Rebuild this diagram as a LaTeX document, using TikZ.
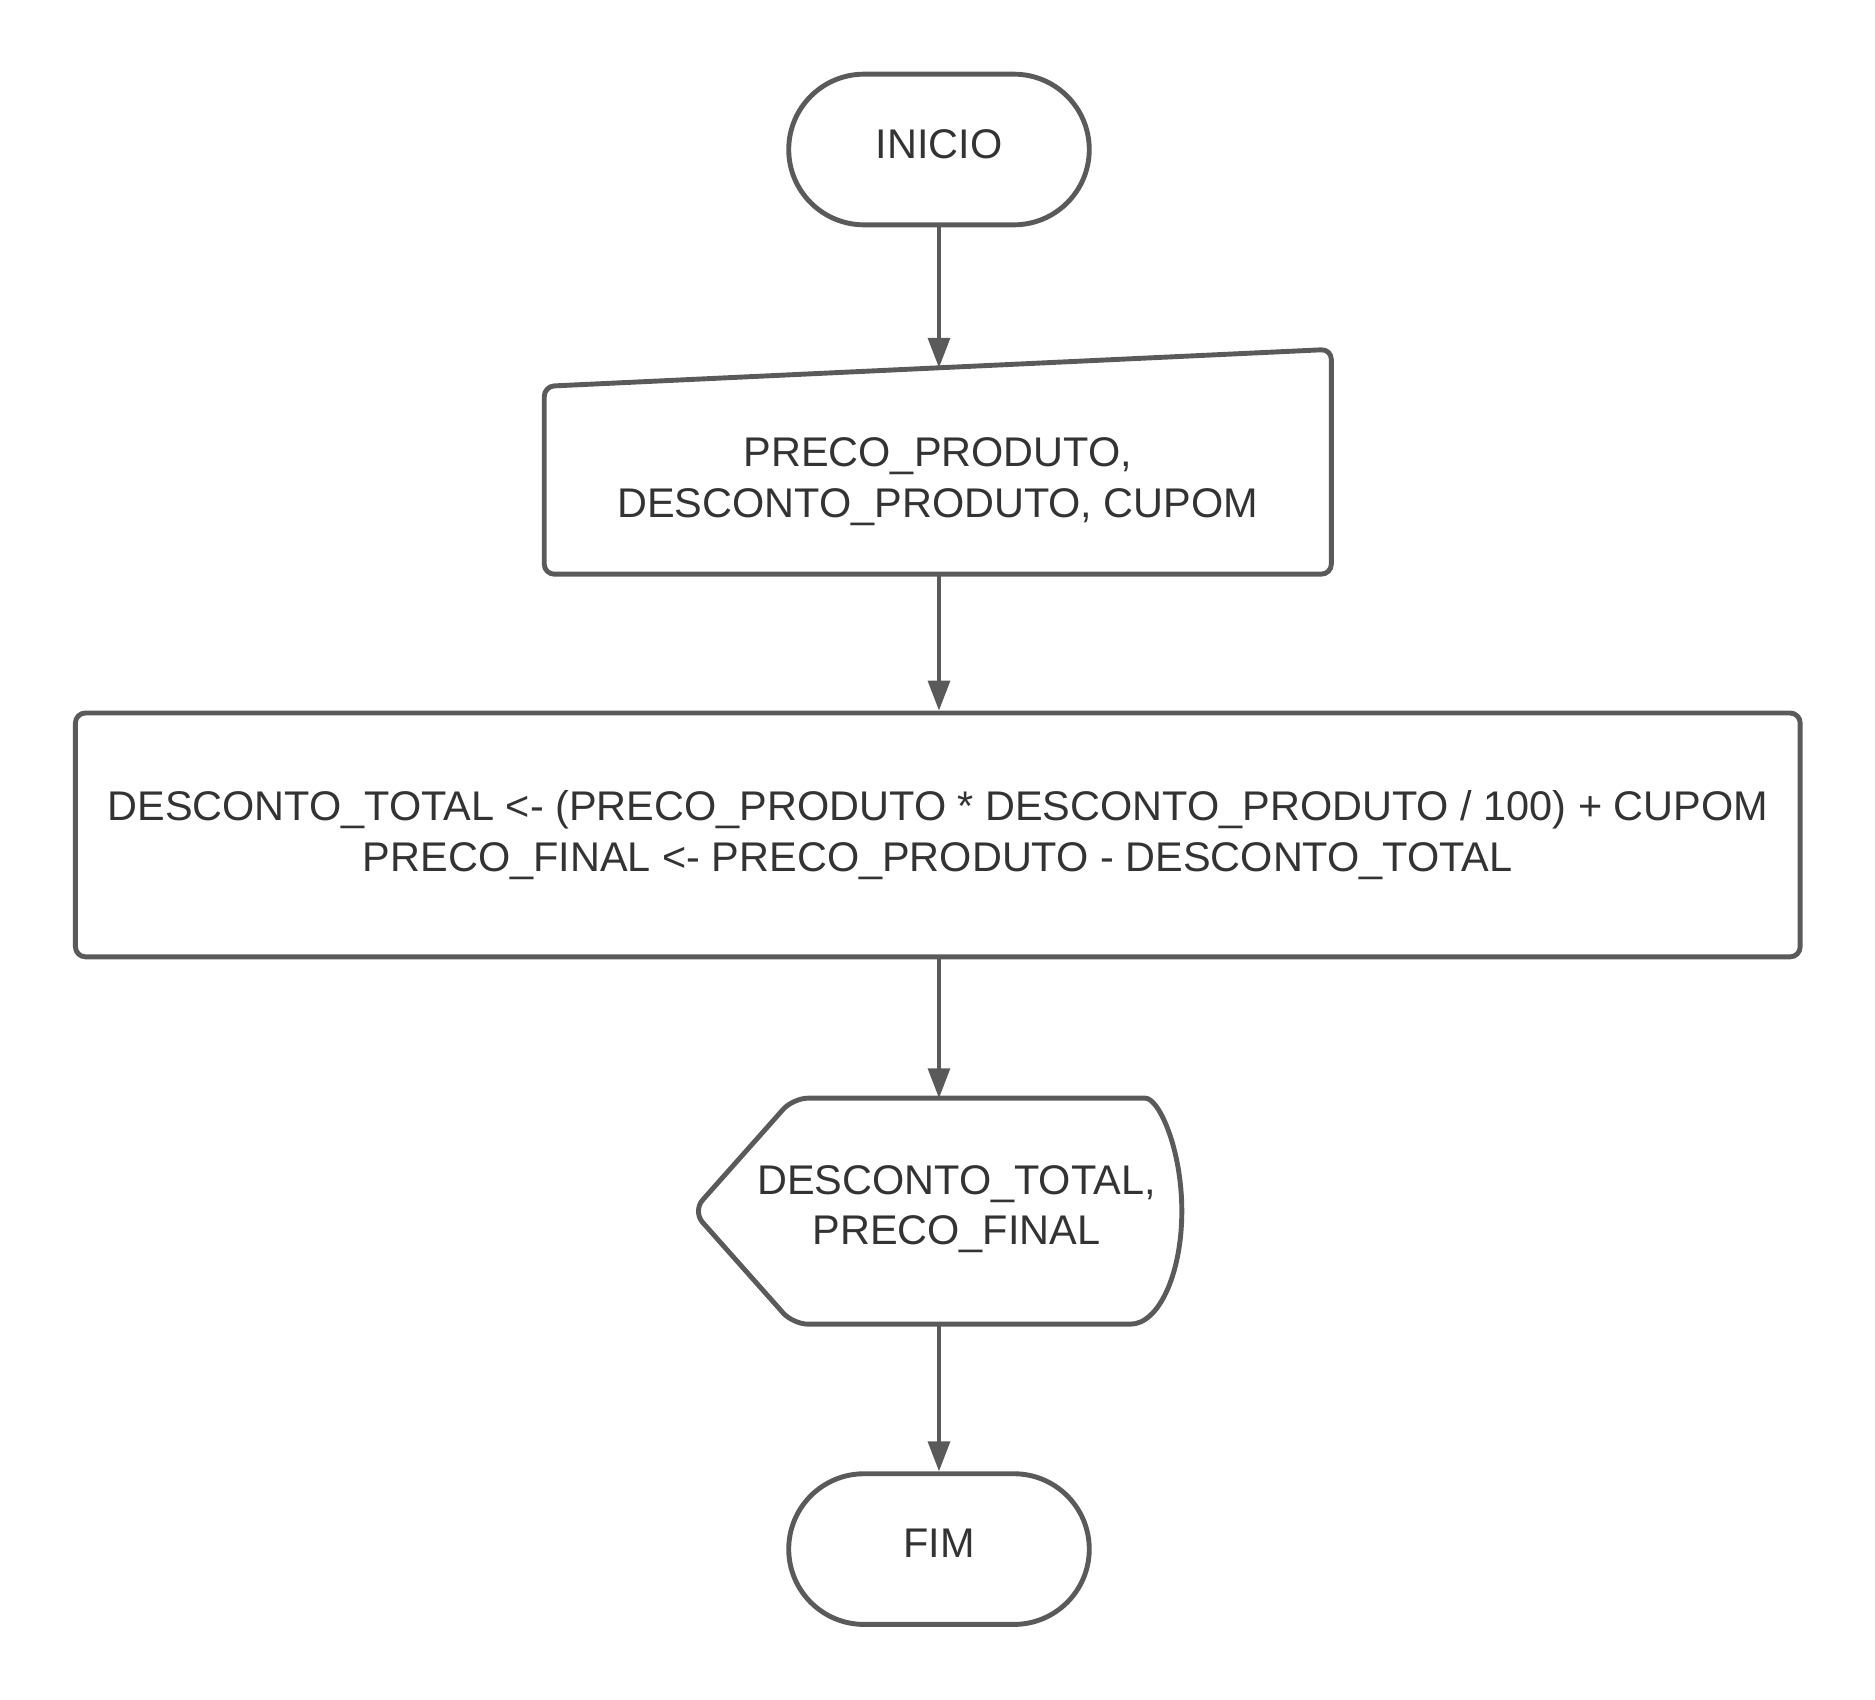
\documentclass[tikz,border=0pt]{standalone}
\usepackage{fontspec}
\setmainfont{Liberation Sans}
\usetikzlibrary{arrows.meta}
\definecolor{linegray}{HTML}{5A5A5A}
\definecolor{textgray}{HTML}{333333}
\tikzset{
  shapeline/.style={draw=linegray, line width=1.4pt, line join=round},
  txt/.style={text=textgray, font=\fontsize{11.85}{14.5}\selectfont, align=center},
  terminal/.style={shapeline, txt, rounded corners=0.757cm, minimum width=3.02cm, minimum height=1.514cm, inner sep=0pt, text depth=0.12cm},
  procbox/.style={shapeline, txt, rounded corners=0.1cm, minimum width=17.33cm, minimum height=2.45cm, inner sep=0pt},
  flow/.style={draw=linegray, line width=1pt, -{Triangle[length=0.3cm, width=0.22cm]}}
}
\begin{document}
\begin{tikzpicture}
    \useasboundingbox (0,0) rectangle (18.84,-17.075);

    % Draw terminals
    \node[terminal] (inicio) at (9.435,-1.502) {INICIO};
    \node[terminal] (fim) at (9.435,-15.565) {FIM};

    % Draw manual input
    \draw[shapeline, rounded corners=0.1cm]
        (9.4,-5.769) -- (5.469,-5.769) -- (5.469,-3.882) -- (13.377,-3.51) -- (13.377,-5.769) -- cycle;
    \node[txt] (entrada) at (9.423,-4.84) {PRECO\_PRODUTO,\\DESCONTO\_PRODUTO, CUPOM};
    \coordinate (entradaTop) at (9.435,-3.695);
    \coordinate (entradaBot) at (9.435,-5.769);

    % Draw process
    \node[procbox] (calculo) at (9.423,-8.389)
        {DESCONTO\_TOTAL <- (PRECO\_PRODUTO * DESCONTO\_PRODUTO / 100) + CUPOM\\PRECO\_FINAL <- PRECO\_PRODUTO - DESCONTO\_TOTAL};

    % Draw display
    \draw[shapeline, rounded corners=0.15cm]
        (9.6,-11.034) -- (11.358,-11.034)
        {[rounded corners=0pt] arc[start angle=90, end angle=-90, x radius=0.517, y radius=1.1355]}
        -- (7.969,-13.305) -- (6.96,-12.17) -- (7.969,-11.034) -- cycle;
    \node[txt] (saida) at (9.61,-12.15) {DESCONTO\_TOTAL,\\PRECO\_FINAL};
    \coordinate (saidaTop) at (9.435,-11.034);
    \coordinate (saidaBot) at (9.435,-13.305);

    % Draw connectors
    \draw[flow] (inicio.south) -- (entradaTop);
    \draw[flow] (entradaBot) -- (entradaBot |- calculo.north);
    \draw[flow] (entradaBot |- calculo.south) -- (saidaTop);
    \draw[flow] (saidaBot) -- (fim.north);
\end{tikzpicture}
\end{document}
